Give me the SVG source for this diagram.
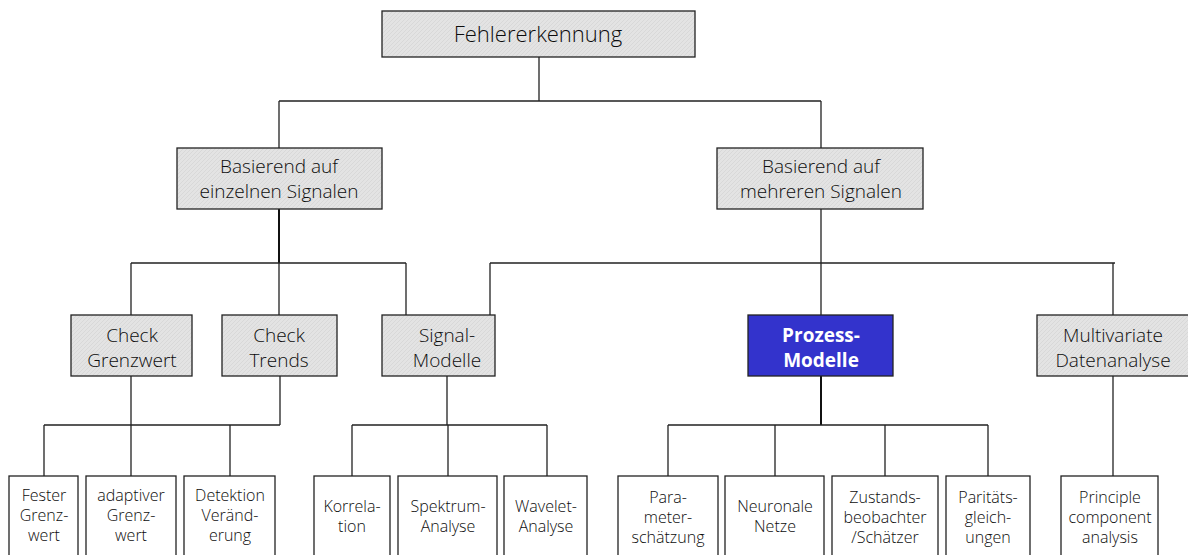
<svg xmlns="http://www.w3.org/2000/svg" width="1188" height="555" viewBox="0 0 1188 555">
  <defs>
    <pattern id="hatch" width="4" height="4" patternUnits="userSpaceOnUse">
      <rect width="4" height="4" fill="#e3e3e3"/>
      <path d="M0 4L4 0" stroke="#d6d6d6" stroke-width="0.8"/>
    </pattern>
  </defs>
  <style>
    text { font-family: "Open Sans", "Noto Sans", "DejaVu Sans", sans-serif; font-weight: 300; fill: #0d0d0d; text-anchor: middle; }
    .grey { fill: url(#hatch); stroke: #222; stroke-width: 1.3; }
    .leaf { fill: #fff; stroke: #222; stroke-width: 1.3; }
    .hi { fill: #3333cc; stroke: #222; stroke-width: 1.3; }
    .t1 { font-size: 22px; }
    .t2 { font-size: 19px; }
    .t3 { font-size: 16px; }
    .hit { font-size: 19px; font-weight: bold; fill: #fff; }
    .c { fill: none; stroke: #222; stroke-width: 1.3; }
    .ct { fill: none; stroke: #111; stroke-width: 2; }
  </style>

  <!-- connectors -->
  <g id="connectors">
    <path class="c" d="M539 57V101M279 101H821M279 101V148M821 101V148"/>
    <path class="ct" d="M279 209V263"/>
    <path class="c" d="M131 263H406M131 263V315M279 263V315M406 263V315"/>
    <path class="c" d="M821 209V263M490 263H1115M490 263V315M821 263V315M1113 263V315"/>
    <path class="c" d="M131 376V425M280 376V425M44 425H280M44 425V476M131 425V476M230 425V476"/>
    <path class="c" d="M447 376V425M352 425H547M352 425V476M448 425V476M547 425V476"/>
    <path class="ct" d="M821 376V425"/>
    <path class="c" d="M668 425H988M668 425V476M775 425V476M885 425V476M988 425V476"/>
    <path class="c" d="M1113 376V476"/>
  </g>

  <g id="n-root">
    <rect class="grey" x="382" y="11" width="313" height="46"/>
    <text class="t1" x="538" y="42">Fehlererkennung</text>
  </g>

  <g id="n-single">
    <rect class="grey" x="177" y="148" width="205" height="61"/>
    <text class="t2" x="279" y="173">Basierend auf</text>
    <text class="t2" x="279" y="198">einzelnen Signalen</text>
  </g>
  <g id="n-multi">
    <rect class="grey" x="717" y="148" width="206" height="61"/>
    <text class="t2" x="821" y="173">Basierend auf</text>
    <text class="t2" x="821" y="198">mehreren Signalen</text>
  </g>

  <g id="n-limit">
    <rect class="grey" x="71" y="315" width="121" height="61"/>
    <text class="t2" x="132" y="342">Check</text>
    <text class="t2" x="132" y="367">Grenzwert</text>
  </g>
  <g id="n-trends">
    <rect class="grey" x="222" y="315" width="115" height="61"/>
    <text class="t2" x="279" y="342">Check</text>
    <text class="t2" x="279" y="367">Trends</text>
  </g>
  <g id="n-signal">
    <rect class="grey" x="382" y="315" width="113" height="61"/>
    <text class="t2" x="447" y="342">Signal-</text>
    <text class="t2" x="447" y="367">Modelle</text>
  </g>
  <g id="n-process">
    <rect class="hi" x="748" y="315" width="145" height="61"/>
    <text class="hit" x="821" y="342">Prozess-</text>
    <text class="hit" x="821" y="367">Modelle</text>
  </g>
  <g id="n-multivariate">
    <rect class="grey" x="1037" y="315" width="152" height="61"/>
    <text class="t2" x="1113" y="342">Multivariate</text>
    <text class="t2" x="1113" y="367">Datenanalyse</text>
  </g>

  <g id="n-fixed">
    <rect class="leaf" x="9" y="476" width="69" height="90"/>
    <text class="t3" x="44" y="501">Fester</text>
    <text class="t3" x="44" y="521">Grenz-</text>
    <text class="t3" x="44" y="541">wert</text>
  </g>
  <g id="n-adaptive">
    <rect class="leaf" x="86" y="476" width="90" height="90"/>
    <text class="t3" x="131" y="501">adaptiver</text>
    <text class="t3" x="131" y="521">Grenz-</text>
    <text class="t3" x="131" y="541">wert</text>
  </g>
  <g id="n-change">
    <rect class="leaf" x="184" y="476" width="91" height="90"/>
    <text class="t3" x="230" y="501">Detektion</text>
    <text class="t3" x="230" y="521">Veränd-</text>
    <text class="t3" x="230" y="541">erung</text>
  </g>
  <g id="n-correlation">
    <rect class="leaf" x="314" y="476" width="76" height="90"/>
    <text class="t3" x="352" y="512">Korrela-</text>
    <text class="t3" x="352" y="532">tion</text>
  </g>
  <g id="n-spectrum">
    <rect class="leaf" x="398" y="476" width="99" height="90"/>
    <text class="t3" x="448" y="512">Spektrum-</text>
    <text class="t3" x="448" y="532">Analyse</text>
  </g>
  <g id="n-wavelet">
    <rect class="leaf" x="504" y="476" width="83" height="90"/>
    <text class="t3" x="546" y="512">Wavelet-</text>
    <text class="t3" x="546" y="532">Analyse</text>
  </g>
  <g id="n-param">
    <rect class="leaf" x="618" y="476" width="100" height="90"/>
    <text class="t3" x="668" y="503">Para-</text>
    <text class="t3" x="668" y="523">meter-</text>
    <text class="t3" x="668" y="543">schätzung</text>
  </g>
  <g id="n-neural">
    <rect class="leaf" x="725" y="476" width="99" height="90"/>
    <text class="t3" x="775" y="512">Neuronale</text>
    <text class="t3" x="775" y="532">Netze</text>
  </g>
  <g id="n-observer">
    <rect class="leaf" x="832" y="476" width="106" height="90"/>
    <text class="t3" x="885" y="503">Zustands-</text>
    <text class="t3" x="885" y="523">beobachter</text>
    <text class="t3" x="885" y="543">/Schätzer</text>
  </g>
  <g id="n-parity">
    <rect class="leaf" x="946" y="476" width="84" height="90"/>
    <text class="t3" x="988" y="503">Paritäts-</text>
    <text class="t3" x="988" y="523">gleich-</text>
    <text class="t3" x="988" y="543">ungen</text>
  </g>
  <g id="n-pca">
    <rect class="leaf" x="1061" y="476" width="97" height="90"/>
    <text class="t3" x="1110" y="503">Principle</text>
    <text class="t3" x="1110" y="523">component</text>
    <text class="t3" x="1110" y="543">analysis</text>
  </g>
</svg>
